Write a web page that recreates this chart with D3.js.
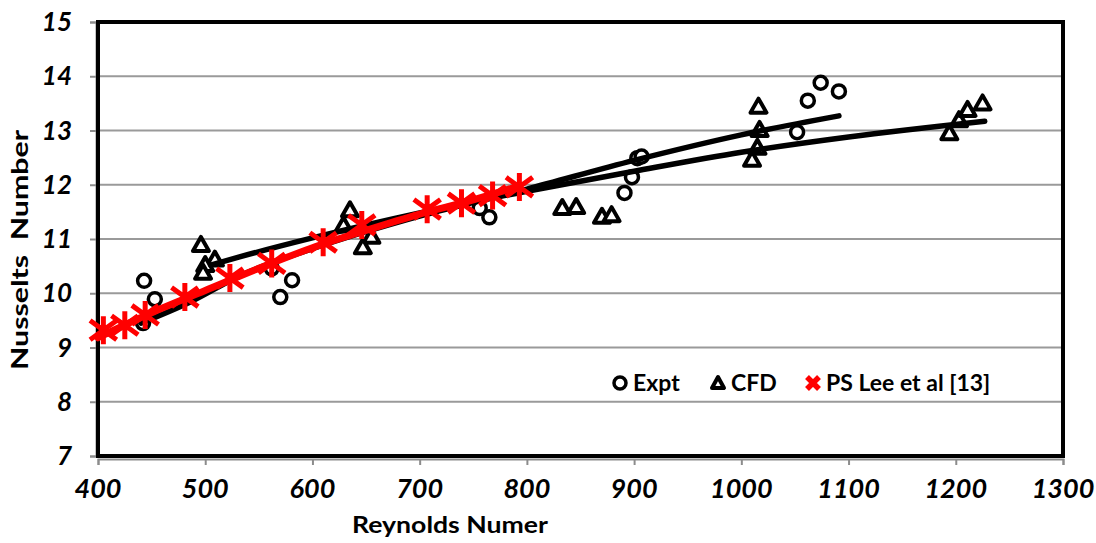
<!DOCTYPE html>
<html>
<head>
<meta charset="utf-8">
<script src="https://cdn.jsdelivr.net/npm/d3@7"></script>
<style>
    body{margin:0;background:#fff;}
    text{font-family:Lato,"Open Sans",sans-serif;font-weight:bold;}
    .narrow{font-family:"Liberation Sans Narrow","Arial Narrow",Lato,sans-serif;}
</style>
</head>
<body>
<div id="chart"></div>
<script>
// values
const exptData = [[443,10.23],[453,9.89],[442,9.45],[562,10.46],[581,10.24],[570,9.93],
    [756,11.57],[765,11.40],[891,11.85],[898,12.14],[903,12.49],[907,12.52],
    [1052,12.97],[1062,13.55],[1074,13.88],[1091,13.72]];
const cfdData = [[496,10.89],[509,10.62],[500,10.52],[498,10.38],[629,11.25],[635,11.53],[655,11.04],[647,10.85],
    [833,11.57],[846,11.59],[870,11.41],[879,11.44],
    [1016,13.44],[1017,13.01],[1015,12.68],[1010,12.46],
    [1194,12.95],[1203,13.19],[1211,13.38],[1225,13.50]];
const leeData = [[405,9.32],[425,9.41],[444,9.60],[481,9.93],[523,10.28],[562,10.55],[610,10.94],
    [646,11.26],[707,11.55],[739,11.66],[768,11.80],[793,11.96]];
// trend lines as they appear in the picture
const exptTrend = [[440,9.45],[486,9.84],[532,10.32],[600,10.82],[700,11.42],[800,11.92],[900,12.45],[1000,12.92],[1091,13.27]];
const cfdTrend = [[505,10.52],[532,10.67],[600,11.02],[700,11.48],[800,11.88],[900,12.25],[1000,12.60],[1100,12.88],[1227,13.17]];
const leeLine = [[400,9.18],[450,9.64],[500,10.05],[550,10.46],[600,10.84],[650,11.16],[700,11.46],[750,11.72],[793,11.98]];
const xTicks = [400,500,600,700,800,900,1000,1100,1200,1300];
const yTicks = [7,8,9,10,11,12,13,14,15];
const legendItems = [{label:"Expt",type:"circle"},{label:"CFD",type:"triangle"},{label:"PS Lee et al [13]",type:"cross"}];

const margin = {top:22, right:33, bottom:87, left:98};
const width = 1096 - margin.left - margin.right;
const height = 543 - margin.top - margin.bottom;

const svg = d3.select("#chart").append("svg")
    .attr("width",1096).attr("height",543)
    .append("g")
    .attr("transform","translate("+margin.left+","+margin.top+")");

const x = d3.scaleLinear().domain([400,1300]).range([0,width]);
const y = d3.scaleLinear().domain([7,15]).range([height,0]);

// gridlines
svg.selectAll(".grid").data(yTicks.slice(1,-1)).join("line")
    .attr("x1",0).attr("x2",width)
    .attr("y1",d=>y(d)).attr("y2",d=>y(d))
    .attr("stroke","#9a9a9a").attr("stroke-width",2);

// axes (gray, outward ticks)
const yAxis = svg.append("g").attr("transform","translate(-2,0)")
    .call(d3.axisLeft(y).tickValues(yTicks).tickSize(6).tickFormat(""));
const xAxis = svg.append("g").attr("transform","translate(0,"+(height+3)+")")
    .call(d3.axisBottom(x).tickValues(xTicks).tickSize(6).tickFormat(""));
[yAxis,xAxis].forEach(a=>{
    a.selectAll("path,line").attr("stroke","#8c8c8c").attr("stroke-width",2);
});

// frame
svg.append("rect").attr("x",0).attr("y",0).attr("width",width).attr("height",height)
    .attr("fill","none").attr("stroke","#000").attr("stroke-width",4);

// tick labels
svg.selectAll(".ylab").data(yTicks).join("text")
    .attr("x",-26).attr("y",d=>y(d)+9)
    .attr("text-anchor","end").attr("font-size",26).attr("font-style","italic").attr("font-weight",900)
    .text(d=>d);
svg.selectAll(".xlab").data(xTicks).join("text")
    .attr("class","narrow")
    .attr("x",d=>x(d)).attr("y",height+42)
    .attr("text-anchor","middle").attr("font-size",27).attr("font-style","italic")
    .text(d=>d);

svg.append("text").attr("class","narrow")
    .attr("x",352-margin.left).attr("y",height+77)
    .attr("font-size",22)
    .attr("textLength",196).attr("lengthAdjust","spacingAndGlyphs")
    .text("Reynolds Numer");
svg.append("text").attr("transform","translate(-70,"+(370-margin.top)+") rotate(-90)")
    .attr("font-size",23).attr("xml:space","preserve").style("white-space","pre")
    .attr("textLength",240).attr("lengthAdjust","spacingAndGlyphs")
    .text("Nusselts  Number");

// markers
const triPath = "M0,-8L8,6L-8,6Z";
function starPath(r){
    const a = r*0.95;
    return "M0,"+(-r)+"V"+r+"M"+(-a)+","+(-a*0.72)+"L"+a+","+(a*0.72)+"M"+(-a)+","+(a*0.72)+"L"+a+","+(-a*0.72);
}

svg.selectAll(".expt").data(exptData).join("circle")
    .attr("cx",d=>x(d[0])).attr("cy",d=>y(d[1])).attr("r",6.5)
    .attr("fill","#fff").attr("stroke","#000").attr("stroke-width",3.5);
svg.selectAll(".cfd").data(cfdData).join("path")
    .attr("d",triPath)
    .attr("transform",d=>"translate("+x(d[0])+","+y(d[1])+")")
    .attr("fill","#fff").attr("stroke","#000").attr("stroke-width",4).attr("stroke-linejoin","round");

const line = d3.line().x(d=>x(d[0])).y(d=>y(d[1])).curve(d3.curveMonotoneX);
svg.append("path").datum(exptTrend).attr("d",line)
    .attr("fill","none").attr("stroke","#000").attr("stroke-width",5.5).attr("stroke-linecap","round");
svg.append("path").datum(cfdTrend).attr("d",line)
    .attr("fill","none").attr("stroke","#000").attr("stroke-width",5.5).attr("stroke-linecap","round");

svg.selectAll(".lee").data(leeData).join("path")
    .attr("d",starPath(14))
    .attr("transform",d=>"translate("+x(d[0])+","+y(d[1])+")")
    .attr("fill","none").attr("stroke","#ff0000").attr("stroke-width",5);
svg.append("path").datum(leeLine).attr("d",line)
    .attr("fill","none").attr("stroke","#ff0000").attr("stroke-width",7).attr("stroke-linecap","round");

// legend
const legendX = [522,620,715];
const legend = svg.selectAll(".legend").data(legendItems).join("g")
    .attr("transform",(d,i)=>"translate("+legendX[i]+","+(383-margin.top)+")");
legend.each(function(d){
    const g = d3.select(this);
    if(d.type==="circle"){
        g.append("circle").attr("r",6).attr("fill","#fff").attr("stroke","#000").attr("stroke-width",3.5);
    }else if(d.type==="triangle"){
        g.append("path").attr("d","M0,-6L6,5L-6,5Z").attr("fill","#fff").attr("stroke","#000").attr("stroke-width",4).attr("stroke-linejoin","round");
    }else{
        g.append("path").attr("d","M-6,-6L6,6M-6,6L6,-6").attr("stroke","#ff0000").attr("stroke-width",5.5);
    }
    g.append("text").attr("x",13).attr("y",8).attr("font-size",23).text(d.label);
});
</script>
</body>
</html>
